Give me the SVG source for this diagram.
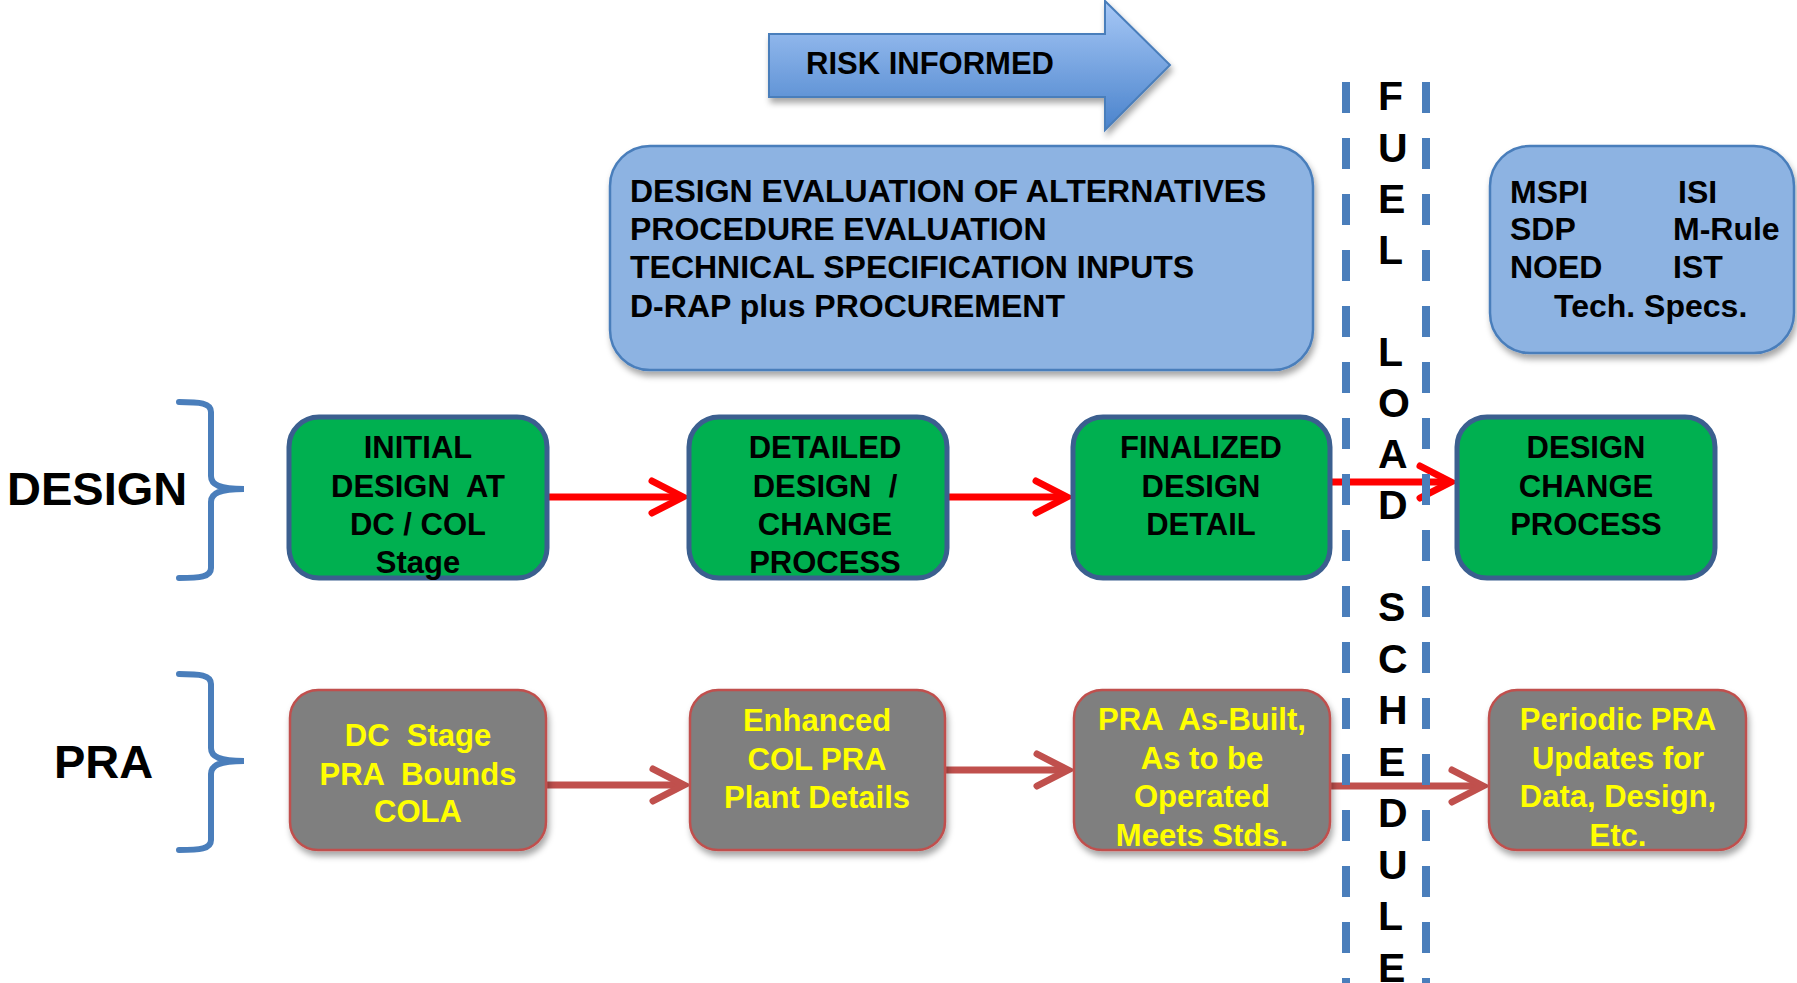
<svg xmlns="http://www.w3.org/2000/svg" width="1797" height="983" viewBox="0 0 1797 983">
<defs>
<style>
.t{font-family:"Liberation Sans",Arial,sans-serif;font-weight:bold;}
.blk{fill:#000;}
.yel{fill:#ffff00;}
.c{text-anchor:middle;}
.f31{font-size:31px;}
.f32{font-size:32px;}
.green{fill:#00b050;stroke:#3b5f8f;stroke-width:5;}
.gray{fill:#7f7f7f;stroke:#c0504d;stroke-width:2.5;}
.blue{fill:#8db3e2;stroke:#4a7ebb;stroke-width:2.5;}
.brace{fill:none;stroke:#4a7ebb;stroke-width:6;stroke-linecap:round;}
.dash{stroke:#4a7ebb;stroke-width:8;stroke-dasharray:31 25;}
.red{stroke:#ff0000;stroke-width:7;fill:none;}
.brn{stroke:#c0504d;stroke-width:7;fill:none;}
</style>
<linearGradient id="gArrow" x1="0" y1="0" x2="0" y2="1">
<stop offset="0" stop-color="#a7c8f6"/>
<stop offset="1" stop-color="#4a83cc"/>
</linearGradient>
<filter id="sh" x="-10%" y="-10%" width="130%" height="140%">
<feDropShadow dx="2" dy="5" stdDeviation="3" flood-color="#000" flood-opacity="0.35"/>
</filter>
<marker id="mRed" markerUnits="userSpaceOnUse" markerWidth="44" markerHeight="44" viewBox="0 0 44 44" refX="31" refY="22" orient="auto" overflow="visible">
<path d="M3,6 L34,22 L3,38" fill="none" stroke="#ff0000" stroke-width="7" stroke-linecap="round"/>
</marker>
<marker id="mBrn" markerUnits="userSpaceOnUse" markerWidth="44" markerHeight="44" viewBox="0 0 44 44" refX="31" refY="22" orient="auto" overflow="visible">
<path d="M3,6 L34,22 L3,38" fill="none" stroke="#c0504d" stroke-width="7" stroke-linecap="round"/>
</marker>
</defs>
<rect width="1797" height="983" fill="#ffffff"/>

<g id="risk-informed">
<polygon points="769,34 1105,34 1105,1 1170,65 1105,130 1105,97 769,97" fill="url(#gArrow)" stroke="#4a7ebb" stroke-width="2" filter="url(#sh)"/>
<text class="t blk f31" x="806" y="74">RISK INFORMED</text>
</g>

<g id="design-uses">
<rect class="blue" x="610" y="146" width="703" height="224" rx="40" filter="url(#sh)"/>
<text class="t blk f32" x="630" y="202">DESIGN EVALUATION OF ALTERNATIVES</text>
<text class="t blk f32" x="630" y="240">PROCEDURE EVALUATION</text>
<text class="t blk f32" x="630" y="278">TECHNICAL SPECIFICATION INPUTS</text>
<text class="t blk f32" x="630" y="317">D-RAP plus PROCUREMENT</text>
</g>

<g id="operation-uses">
<rect class="blue" x="1490" y="146" width="304" height="207" rx="40" filter="url(#sh)"/>
<text class="t blk f32" x="1510" y="203">MSPI</text>
<text class="t blk f32" x="1678" y="203">ISI</text>
<text class="t blk f32" x="1510" y="240">SDP</text>
<text class="t blk f32" x="1673" y="240">M-Rule</text>
<text class="t blk f32" x="1510" y="278">NOED</text>
<text class="t blk f32" x="1673" y="278">IST</text>
<text class="t blk f32" x="1554" y="317">Tech. Specs.</text>
</g>

<g id="design-label">
<text class="t blk" x="7" y="505" font-size="47">DESIGN</text>
<path class="brace" d="M179,402 C200,402 211,403 211,412 L211,476 C211,485 220,489 244,489 C220,489 211,493 211,502 L211,568 C211,577 200,578 179,578"/>
</g>

<g id="pra-label">
<text class="t blk" x="54" y="778" font-size="47">PRA</text>
<path class="brace" d="M179,674 C200,674 211,675 211,684 L211,748 C211,757 220,761 244,761 C220,761 211,765 211,774 L211,840 C211,849 200,850 179,850"/>
</g>

<g id="connectors">
<line class="red" x1="547" y1="497" x2="680" y2="497" marker-end="url(#mRed)"/>
<line class="red" x1="947" y1="497" x2="1064" y2="497" marker-end="url(#mRed)"/>
<line class="red" x1="1330" y1="482" x2="1448" y2="482" marker-end="url(#mRed)"/>
<line class="brn" x1="546" y1="785" x2="681" y2="785" marker-end="url(#mBrn)"/>
<line class="brn" x1="945" y1="770" x2="1065" y2="770" marker-end="url(#mBrn)"/>
<line class="brn" x1="1330" y1="786" x2="1480" y2="786" marker-end="url(#mBrn)"/>
</g>

<g id="d1">
<rect class="green" x="289" y="417" width="258" height="161" rx="30"/>
<text class="t blk f31 c" x="418" y="458">INITIAL</text>
<text class="t blk f31 c" x="418" y="497" xml:space="preserve">DESIGN  AT</text>
<text class="t blk f31 c" x="418" y="535">DC / COL</text>
<text class="t blk f31 c" x="418" y="573">Stage</text>
</g>
<g id="d2">
<rect class="green" x="689" y="417" width="258" height="161" rx="30"/>
<text class="t blk f31 c" x="825" y="458">DETAILED</text>
<text class="t blk f31 c" x="825" y="497" xml:space="preserve">DESIGN  /</text>
<text class="t blk f31 c" x="825" y="535">CHANGE</text>
<text class="t blk f31 c" x="825" y="573">PROCESS</text>
</g>
<g id="d3">
<rect class="green" x="1073" y="417" width="257" height="161" rx="30"/>
<text class="t blk f31 c" x="1201" y="458">FINALIZED</text>
<text class="t blk f31 c" x="1201" y="497">DESIGN</text>
<text class="t blk f31 c" x="1201" y="535">DETAIL</text>
</g>
<g id="d4">
<rect class="green" x="1457" y="417" width="258" height="161" rx="30"/>
<text class="t blk f31 c" x="1586" y="458">DESIGN</text>
<text class="t blk f31 c" x="1586" y="497">CHANGE</text>
<text class="t blk f31 c" x="1586" y="535">PROCESS</text>
</g>

<g id="p1">
<rect class="gray" x="290" y="690" width="256" height="160" rx="28" filter="url(#sh)"/>
<text class="t yel f31 c" x="418" y="746" xml:space="preserve">DC  Stage</text>
<text class="t yel f31 c" x="418" y="785" xml:space="preserve">PRA  Bounds</text>
<text class="t yel f31 c" x="418" y="822">COLA</text>
</g>
<g id="p2">
<rect class="gray" x="690" y="690" width="255" height="160" rx="28" filter="url(#sh)"/>
<text class="t yel f31 c" x="817" y="731">Enhanced</text>
<text class="t yel f31 c" x="817" y="770">COL PRA</text>
<text class="t yel f31 c" x="817" y="808">Plant Details</text>
</g>
<g id="p3">
<rect class="gray" x="1074" y="690" width="256" height="160" rx="28" filter="url(#sh)"/>
<text class="t yel f31 c" x="1202" y="730" xml:space="preserve">PRA  As-Built,</text>
<text class="t yel f31 c" x="1202" y="769">As to be</text>
<text class="t yel f31 c" x="1202" y="807">Operated</text>
<text class="t yel f31 c" x="1202" y="846">Meets Stds.</text>
</g>
<g id="p4">
<rect class="gray" x="1489" y="690" width="257" height="160" rx="28" filter="url(#sh)"/>
<text class="t yel f31 c" x="1618" y="730">Periodic PRA</text>
<text class="t yel f31 c" x="1618" y="769">Updates for</text>
<text class="t yel f31 c" x="1618" y="807">Data, Design,</text>
<text class="t yel f31 c" x="1618" y="846">Etc.</text>
</g>

<g id="fuel-load-schedule">
<line class="dash" x1="1346" y1="82" x2="1346" y2="983"/>
<line class="dash" x1="1426" y1="82" x2="1426" y2="983"/>
<g class="t blk" font-size="41">
<text x="1378" y="110">F</text>
<text x="1378" y="162">U</text>
<text x="1378" y="213">E</text>
<text x="1378" y="264">L</text>
<text x="1378" y="366">L</text>
<text x="1378" y="417">O</text>
<text x="1378" y="468">A</text>
<text x="1378" y="519">D</text>
<text x="1378" y="621">S</text>
<text x="1378" y="673">C</text>
<text x="1378" y="724">H</text>
<text x="1378" y="776">E</text>
<text x="1378" y="827">D</text>
<text x="1378" y="879">U</text>
<text x="1378" y="930">L</text>
<text x="1378" y="982">E</text>
</g>
</g>
</svg>
